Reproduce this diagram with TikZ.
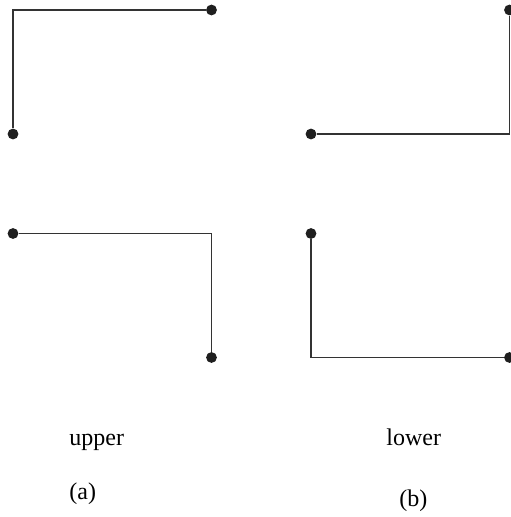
\documentclass[tikz,border=0pt]{standalone}
\usepackage{fontspec}
\setmainfont{Liberation Serif}
\begin{document}
\begin{tikzpicture}[x=.5pt,y=-.5pt,font=\fontsize{12}{14}\selectfont,
 endpt/.style={circle,fill=black!88,inner sep=0pt,minimum size=5.4pt},
 wire/.style={draw=black!80,line width=.6pt},
 lbl/.style={anchor=base west,inner sep=0pt}]
 \useasboundingbox (0,0) rectangle (510,517);
 % column (a)
 \node[endpt] (ut1) at (13,134) {};\node[endpt] (ut2) at (211.5,10) {};
 \draw[wire] (ut1) |- (ut2);
 \node[endpt] (ub1) at (13,233.5) {};\node[endpt] (ub2) at (211.5,357.5) {};
 \draw[wire] (ub1) -| (ub2);
 \node[lbl] (upr) at (69,445) {upper};
 \node[lbl] (capa) at (69,499) {(a)};
 % column (b)
 \node[endpt] (lt1) at (311,134) {};\node[endpt] (lt2) at (509.5,10) {};
 \draw[wire] (lt1) -| (lt2);
 \node[endpt] (lb1) at (311,233.5) {};\node[endpt] (lb2) at (509.5,357.5) {};
 \draw[wire] (lb1) |- (lb2);
 \node[lbl] (lwr) at (386,445) {lower};
 \node[lbl] (capb) at (399,506) {(b)};
\end{tikzpicture}
\end{document}
